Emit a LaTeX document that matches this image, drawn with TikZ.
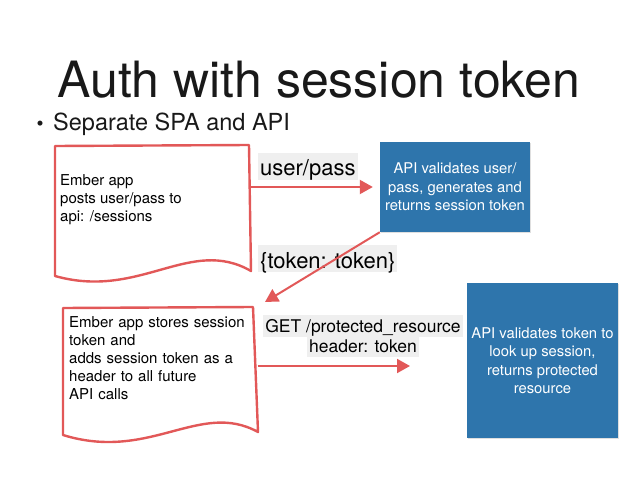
\documentclass[tikz,border=0pt]{standalone}
\usepackage{fontspec}
\setmainfont{TeX Gyre Heros}
\usetikzlibrary{arrows.meta,shadows}
\definecolor{sketchred}{RGB}{226,88,88}
\definecolor{apiblue}{RGB}{46,117,172}
\definecolor{lblgray}{RGB}{239,239,239}
\begin{document}
\begin{tikzpicture}[x=1pt,y=-1pt,
  docshape/.style={draw=sketchred, line width=2.4pt, line join=round, fill=white},
  docframe/.style={inner sep=0pt, draw=none},
  doctext/.style={inner sep=0pt, anchor=north west, align=left, font=\fontsize{15}{18}\selectfont},
  apibox/.style={fill=apiblue, text=white, align=center, inner sep=0pt,
    font=\fontsize{14.8}{18.5}\selectfont,
    drop shadow={shadow xshift=0.6pt, shadow yshift=-1pt, opacity=0.25}},
  flow/.style={draw=sketchred, line width=2pt, -{Triangle[length=13pt,width=14pt]}},
  lbl/.style={fill=lblgray, inner xsep=2pt, inner ysep=0pt, anchor=base west}
]
\useasboundingbox (0,0) rectangle (638,479);
\fill[white] (0,0) rectangle (638,479);

% title
\node[anchor=base, inner sep=0pt, text=black!90, font=\fontsize{50}{58}\selectfont] (title) at (319,97) {Auth with session token};
\node[anchor=base, inner sep=0pt, text=black!90, font=\fontsize{20}{24}\selectfont] (bul) at (40,130) {\textbullet};
\node[anchor=base west, inner sep=0pt, text=black!90, font=\fontsize{23.5}{28}\selectfont] (sub) at (53,130) {Separate SPA and API};

% document shape 1
\node[docframe, minimum width=196pt, minimum height=126pt] (doc1) at (153,209) {};
\draw[docshape] (55,146) -- (249,145) -- (251,271)
  .. controls (190,236) and (140,300) .. (55,276) -- cycle;
\node[doctext] (t1) at (60,174.2) {Ember app\\posts user/pass to\\api: /sessions};

% document shape 2
\node[docframe, minimum width=195pt, minimum height=126pt] (doc2) at (160,370) {};
\draw[docshape] (63,308) -- (253,307) -- (258,432)
  .. controls (200,400) and (150,462) .. (63,435) -- cycle;
\node[doctext, text width=181pt] (t2) at (69,316.2) {\makebox[181pt][s]{Ember app stores session}\\token and\\\makebox[181pt][s]{adds session token as a}\\header to all future\\API calls};

% API boxes
\node[apibox, minimum width=150pt, minimum height=90pt] (api1) at (455,187) {API validates user/\\pass, generates and\\returns session token};
\node[apibox, minimum width=151pt, minimum height=155pt] (api2) at (542.5,360.5) {API validates token to\\look up session,\\returns protected\\resource};

% labels
\node[lbl, font=\fontsize{22}{26}\selectfont, text height=22pt, text depth=5pt] (lup) at (258,175) {user/pass};
\node[lbl, font=\fontsize{22}{26}\selectfont, text height=23pt, text depth=4pt] (ltok) at (258,268) {\{token: token\}};
\node[lbl, anchor=base, font=\fontsize{17.5}{21}\selectfont, text height=17pt, text depth=5pt] (lget) at (363,332) {GET /protected\_resource};
\node[lbl, anchor=base, font=\fontsize{17.5}{21}\selectfont, text height=15pt, text depth=5pt] (lhdr) at (363,352) {header: token};

% connectors
\draw[flow, shorten >=7pt] (doc1.east |- api1.west) -- (api1.west);
\coordinate (tip2) at (265,302);
\draw[flow] (api1.south west) -- (tip2);
\coordinate (tip3) at (410,366);
\draw[flow] (doc2.east |- tip3) -- (tip3);
\end{tikzpicture}
\end{document}
